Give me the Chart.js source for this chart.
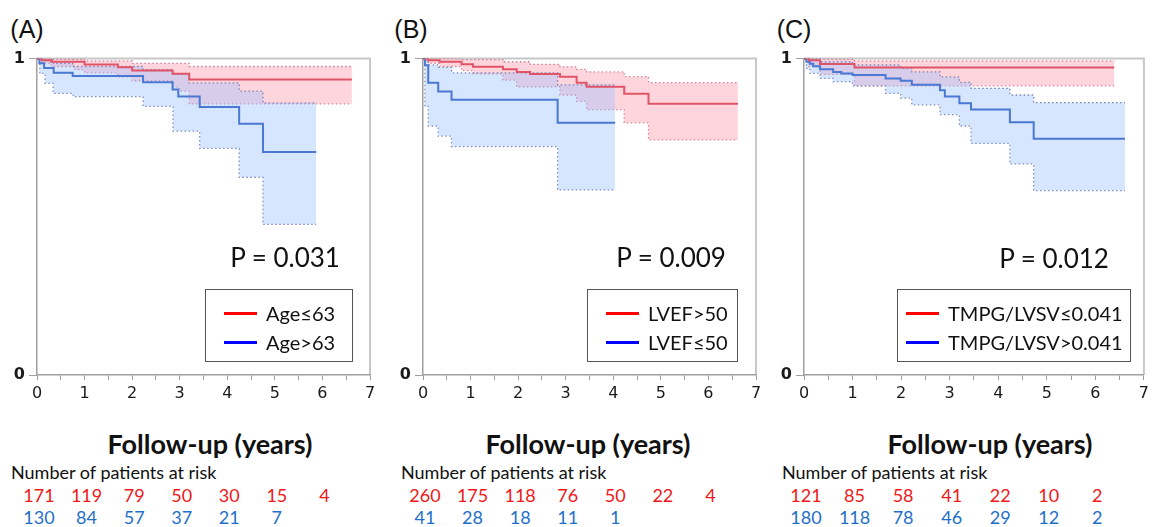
<!DOCTYPE html>
<html>
<head>
<meta charset="utf-8">
<title>Kaplan-Meier curves</title>
<script src="https://cdn.jsdelivr.net/npm/chart.js@4.4.1/dist/chart.umd.min.js"></script>
<style>
  html, body { margin: 0; padding: 0; background: #fff; }
  body { position: relative; width: 1153px; height: 527px; overflow: hidden;
         font-family: Lato, 'Open Sans', 'Noto Sans', sans-serif; color: #111; }
  canvas { position: absolute; top: 45px; }
  .t { position: absolute; line-height: 1; white-space: nowrap; transform: translate(-50%, -50%); }
  .tag { font-family: 'Liberation Sans', Arial, sans-serif; font-size: 25px; }
  .pval { font-size: 26px; }
  .xtitle { font-size: 27px; font-weight: bold; }
  .riskhead { transform: translate(0, -50%); font-size: 18px; }
  .risk { font-size: 18px; }
  .legend { position: absolute; border: 1px solid #555; background: #fff; box-sizing: border-box; }
  .legend .row { position: absolute; display: flex; align-items: center; font-size: 20px; line-height: 1; transform: translateY(-50%); white-space: nowrap; }
  .legend .ln { display: inline-block; width: 33px; height: 3px; margin-right: 9px; }
</style>
</head>
<body>
<canvas id="cA" width="385" height="360" style="left:0px"></canvas>
<canvas id="cB" width="385" height="360" style="left:386px"></canvas>
<canvas id="cC" width="386" height="360" style="left:767px"></canvas>
<script>
// --- texts ---
const years = [0, 1, 2, 3, 4, 5, 6, 7];
const panelTags = ['(A)', '(B)', '(C)'];
const pValues = ['P = 0.031', 'P = 0.009', 'P = 0.012'];
const groupNames = [['Age≤63', 'Age>63'], ['LVEF>50', 'LVEF≤50'], ['TMPG/LVSV≤0.041', 'TMPG/LVSV>0.041']];
const axisTitle = 'Follow-up (years)';
const riskTitle = 'Number of patients at risk';

// --- survival curves [years, survival], with 95% CI bounds ---
// (A) age
const ageLow = [[0,1],[0.1,0.995],[0.3,0.99],[1.0,0.981],[1.7,0.973],[2.0,0.962],[2.85,0.952],[3.2,0.934],[6.62,0.934]];
const ageLowUpper = [[0,1],[0.3,0.998],[1.0,0.993],[2.0,0.985],[3.2,0.975],[6.62,0.975]];
const ageLowLower = [[0,1],[0.1,0.985],[0.3,0.975],[0.8,0.965],[1.0,0.955],[1.7,0.942],[2.0,0.93],[2.85,0.91],[3.0,0.897],[3.2,0.857],[6.62,0.857]];
const ageHigh = [[0,1],[0.05,0.985],[0.15,0.97],[0.35,0.955],[0.75,0.945],[2.23,0.925],[2.85,0.902],[2.97,0.88],[3.42,0.847],[4.25,0.794],[4.75,0.705],[5.87,0.705]];
const ageHighUpper = [[0,1],[0.1,0.995],[0.35,0.985],[0.75,0.975],[2.23,0.965],[2.85,0.95],[3.2,0.923],[4.25,0.897],[4.75,0.86],[5.87,0.86]];
const ageHighLower = [[0,1],[0.06,0.953],[0.17,0.922],[0.34,0.89],[0.76,0.88],[2.23,0.849],[2.86,0.771],[3.42,0.716],[4.25,0.625],[4.75,0.476],[5.87,0.476]];

// (B) LVEF
const lvefHigh = [[0,1],[0.11,0.995],[0.35,0.99],[0.81,0.982],[1.05,0.974],[1.68,0.966],[1.97,0.958],[2.25,0.951],[2.88,0.943],[3.23,0.924],[3.44,0.911],[4.23,0.889],[4.74,0.857],[6.62,0.857]];
const lvefHighUpper = [[0,1],[0.8,0.997],[1.7,0.99],[2.25,0.982],[2.88,0.974],[3.23,0.966],[3.44,0.958],[4.23,0.943],[4.74,0.924],[6.62,0.924]];
const lvefHighLower = [[0,1],[0.11,0.985],[0.35,0.975],[0.81,0.962],[1.05,0.952],[1.68,0.932],[1.97,0.911],[2.88,0.885],[3.23,0.865],[3.44,0.839],[4.23,0.797],[4.74,0.743],[6.62,0.743]];
const lvefLow = [[0,1],[0.04,0.979],[0.11,0.924],[0.32,0.896],[0.6,0.87],[2.83,0.797],[4.04,0.797]];
const lvefLowUpper = [[0,1],[0.04,0.995],[0.11,0.98],[0.32,0.972],[0.6,0.955],[2.83,0.917],[4.04,0.917]];
const lvefLowLower = [[0,1],[0.04,0.849],[0.11,0.787],[0.32,0.755],[0.6,0.722],[2.83,0.585],[4.04,0.585]];

// (C) TMPG/LVSV
const tmpgLow = [[0,1],[0.1,0.995],[0.33,0.983],[1.04,0.972],[6.39,0.972]];
const tmpgLowUpper = [[0,1],[0.33,0.998],[1.04,0.993],[6.39,0.993]];
const tmpgLowLower = [[0,1],[0.1,0.975],[0.33,0.95],[1.04,0.914],[6.39,0.914]];
const tmpgHigh = [[0,1],[0.05,0.99],[0.12,0.984],[0.19,0.976],[0.33,0.966],[0.6,0.958],[0.77,0.953],[1.0,0.948],[1.68,0.9375],[1.99,0.93],[2.22,0.917],[2.8,0.9],[2.9,0.88],[3.2,0.859],[3.44,0.839],[4.24,0.799],[4.73,0.747],[6.61,0.747]];
const tmpgHighUpper = [[0,1],[0.12,0.998],[0.33,0.99],[1.0,0.98],[1.99,0.97],[2.22,0.958],[2.8,0.942],[3.2,0.925],[3.44,0.906],[4.24,0.885],[4.73,0.861],[6.61,0.861]];
const tmpgHighLower = [[0,1],[0.05,0.969],[0.12,0.953],[0.33,0.9375],[0.6,0.927],[1.0,0.914],[1.68,0.89],[1.99,0.875],[2.22,0.854],[2.8,0.823],[3.2,0.787],[3.44,0.732],[4.24,0.667],[4.73,0.583],[6.61,0.583]];

// --- number at risk at 0, 1, 2 ... years ---
const riskAgeLow = [171, 119, 79, 50, 30, 15, 4];
const riskAgeHigh = [130, 84, 57, 37, 21, 7];
const riskLvefHigh = [260, 175, 118, 76, 50, 22, 4];
const riskLvefLow = [41, 28, 18, 11, 1];
const riskTmpgLow = [121, 85, 58, 41, 22, 10, 2];
const riskTmpgHigh = [180, 118, 78, 46, 29, 12, 2];

// colours
const RED_LINE = 'rgb(224, 84, 104)';
const BLUE_LINE = 'rgb(74, 120, 210)';
const RED_BAND = 'rgba(255, 150, 170, 0.4)';
const BLUE_BAND = 'rgba(150, 190, 255, 0.38)';
const RED_DOT = 'rgba(200, 120, 140, 0.9)';
const BLUE_DOT = 'rgba(110, 120, 170, 0.9)';
const RED_TEXT = '#f01818';
const BLUE_TEXT = '#1f6fc9';
const TICK_FONT = 'DejaVu Sans, Liberation Sans, sans-serif';

Chart.defaults.font.family = TICK_FONT;

const panels = [
  { canvas: 'cA', left: 0, padRight: 15, red: [ageLow, ageLowUpper, ageLowLower], blue: [ageHigh, ageHighUpper, ageHighLower],
    riskRed: riskAgeLow, riskBlue: riskAgeHigh,
    tag: [27, 29], p: [285, 257], legend: [205, 289, 148, 18], title: [210, 443], riskLeft: 11 },
  { canvas: 'cB', left: 386, padRight: 15, red: [lvefHigh, lvefHighUpper, lvefHighLower], blue: [lvefLow, lvefLowUpper, lvefLowLower],
    riskRed: riskLvefHigh, riskBlue: riskLvefLow,
    tag: [411, 29], p: [671, 257], legend: [587, 289, 151, 18], title: [588, 443], riskLeft: 401 },
  { canvas: 'cC', left: 767, padRight: 5, red: [tmpgLow, tmpgLowUpper, tmpgLowLower], blue: [tmpgHigh, tmpgHighUpper, tmpgHighLower],
    riskRed: riskTmpgLow, riskBlue: riskTmpgHigh,
    tag: [794, 29], p: [1054, 258], legend: [897, 289, 234, 8], title: [990, 443], riskLeft: 782 }
];

function pts(arr) {
  return arr.map(([x, y]) => ({ x: x, y: y }));
}

function km(data, color, label) {
  return { label: label, data: pts(data), borderColor: color, borderWidth: 2, stepped: true, pointRadius: 0, fill: false };
}

function ciBound(data, dot, band) {
  return {
    data: pts(data), borderColor: dot, borderWidth: 1.3, borderDash: [1.5, 2.5],
    stepped: true, pointRadius: 0,
    fill: band ? '+1' : false, backgroundColor: band || 'transparent'
  };
}

// light frame on the top and right of the plot
const frame = {
  id: 'frame',
  beforeDraw(chart) {
    const { ctx, chartArea: a } = chart;
    ctx.save();
    ctx.strokeStyle = '#c8c8c8';
    ctx.lineWidth = 2;
    ctx.beginPath();
    ctx.moveTo(a.left, a.top);
    ctx.lineTo(a.right, a.top);
    ctx.lineTo(a.right, a.bottom);
    ctx.stroke();
    ctx.restore();
  }
};

function addText(cls, txt, x, y, color) {
  const d = document.createElement('div');
  d.className = 't ' + cls;
  d.textContent = txt;
  d.style.left = x + 'px';
  d.style.top = y + 'px';
  if (color) d.style.color = color;
  document.body.appendChild(d);
  return d;
}

panels.forEach((p, i) => {
  const datasets = [
    km(p.red[0], RED_LINE, groupNames[i][0]),
    km(p.blue[0], BLUE_LINE, groupNames[i][1]),
    ciBound(p.blue[1], BLUE_DOT, BLUE_BAND),
    ciBound(p.blue[2], BLUE_DOT),
    ciBound(p.red[1], RED_DOT, RED_BAND),
    ciBound(p.red[2], RED_DOT)
  ];

  const chart = new Chart(document.getElementById(p.canvas), {
    type: 'line',
    data: { datasets: datasets },
    options: {
      responsive: false,
      animation: false,
      layout: { padding: { left: 0, top: 10, right: p.padRight, bottom: 0 } },
      plugins: { legend: { display: false }, tooltip: { enabled: false } },
      scales: {
        x: {
          type: 'linear', min: 0, max: 7,
          afterFit: s => { s.height = 30; },
          ticks: {
            stepSize: 0.5, autoSkip: false, maxRotation: 0, padding: 4, color: '#1a1a1a',
            font: { family: TICK_FONT, size: 16 },
            callback: v => years.includes(v) ? String(v) : ''
          },
          grid: { drawOnChartArea: false, tickLength: 5, color: '#a0a0a0' },
          border: { color: '#a0a0a0', width: 1.5 }
        },
        y: {
          min: 0, max: 1,
          afterFit: s => { s.width = 37; },
          ticks: {
            stepSize: 1, padding: 4, color: '#1a1a1a',
            font: { family: TICK_FONT, size: 16, weight: 'bold' }
          },
          grid: { drawOnChartArea: false, tickLength: 8, color: '#a0a0a0' },
          border: { color: '#a0a0a0', width: 1.5 }
        }
      }
    },
    plugins: [frame]
  });

  addText('tag', panelTags[i], p.tag[0], p.tag[1]);
  addText('pval', pValues[i], p.p[0], p.p[1]);
  addText('xtitle', axisTitle, p.title[0], p.title[1]);

  // legend box
  const [lx, ly, lw, lpad] = p.legend;
  const box = document.createElement('div');
  box.className = 'legend';
  box.style.left = lx + 'px';
  box.style.top = ly + 'px';
  box.style.width = lw + 'px';
  box.style.height = '73px';
  [['#ff0000', 23], ['#0000ff', 52]].forEach(([c, cy], k) => {
    const row = document.createElement('div');
    row.className = 'row';
    row.style.left = lpad + 'px';
    row.style.top = cy + 'px';
    row.innerHTML = '<span class="ln" style="background:' + c + '"></span>';
    row.appendChild(document.createTextNode(groupNames[i][k]));
    box.appendChild(row);
  });
  document.body.appendChild(box);

  // number at risk table
  addText('riskhead', riskTitle, p.riskLeft, 472);
  const xs = chart.scales.x;
  p.riskRed.forEach((n, k) => addText('risk', String(n), p.left + xs.getPixelForValue(k) + 2, 495, RED_TEXT));
  p.riskBlue.forEach((n, k) => addText('risk', String(n), p.left + xs.getPixelForValue(k) + 2, 517, BLUE_TEXT));
});
</script>
</body>
</html>
